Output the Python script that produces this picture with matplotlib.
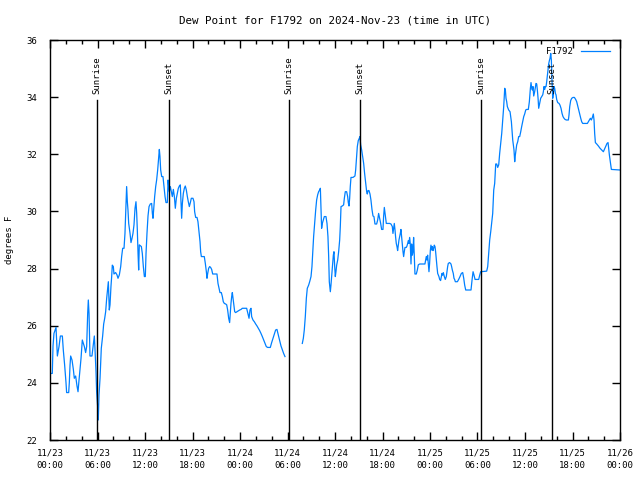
import numpy as np
import matplotlib
matplotlib.use('Agg')
import matplotlib.pyplot as plt
import matplotlib.transforms as mtransforms
from matplotlib.ticker import MultipleLocator

# hours since 2024-11-23 00:00 UTC and dew point (F); None marks a data gap
hours = [
    0.0, 0.29, 0.38, 0.50, 0.76, 0.93, 1.14, 1.31, 1.56, 1.68, 1.85, 2.02, 2.10, 2.36, 2.44,
    2.53, 2.61, 2.78, 2.95, 3.07, 3.24, 3.41, 3.54, 3.66, 3.79, 3.92, 4.08, 4.21, 4.34, 4.50,
    4.63, 4.76, 4.84, 4.93, 5.05, 5.30, 5.47, 5.60, 5.68, 5.81, 5.89, 6.02, 6.10, 6.19, 6.32,
    6.48, 6.65, 6.78, 6.91, 7.03, 7.16, 7.28, 7.37, 7.49, 7.58, 7.70, 7.79, 7.87, 8.00, 8.08,
    8.29, 8.46, 8.59, 8.76, 8.93, 9.05, 9.18, 9.35, 9.47, 9.60, 9.68, 9.77, 9.85, 9.94, 10.11,
    10.23, 10.36, 10.48, 10.61, 10.74, 10.86, 10.95, 11.03, 11.12, 11.20, 11.28, 11.54, 11.66, 11.79, 11.92,
    12.04, 12.13, 12.25, 12.38, 12.51, 12.67, 12.84, 12.93, 13.01, 13.09, 13.22, 13.35, 13.47, 13.60, 13.73,
    13.81, 13.89, 13.98, 14.11, 14.27, 14.40, 14.53, 14.65, 14.82, 14.91, 14.99, 15.07, 15.20, 15.33, 15.45,
    15.58, 15.71, 15.83, 15.96, 16.08, 16.21, 16.34, 16.46, 16.55, 16.63, 16.72, 16.84, 16.97, 17.09, 17.22,
    17.35, 17.47, 17.60, 17.73, 17.85, 18.06, 18.19, 18.27, 18.40, 18.57, 18.69, 18.82, 18.95, 19.03, 19.12,
    19.49, 19.62, 19.75, 19.83, 19.92, 20.04, 20.17, 20.29, 20.42, 20.55, 21.09, 21.22, 21.35, 21.47, 21.64,
    21.77, 21.89, 22.02, 22.19, 22.32, 22.44, 22.57, 22.69, 22.78, 22.86, 22.95, 23.03, 23.12, 23.20, 23.33,
    23.45, 23.62, 23.79, 23.96, 24.13, 24.29, 24.55, 24.84,
    25.14, 25.26, 25.39, 25.47, 25.64, 25.81, 25.98, 26.15, 26.31, 26.48, 26.65, 26.82, 26.99, 27.16, 27.32,
    27.49, 27.83, 28.00, 28.17, 28.34, 28.50, 28.67, 28.84, 29.01, 29.18, 29.35, 29.51, 29.68, 30.8,
    31.87, 32.00, 32.12, 32.25, 32.38, 32.50, 32.67, 32.80, 32.97, 33.09, 33.18, 33.30, 33.43, 33.56, 33.68,
    33.81, 33.93, 34.06, 34.15, 34.23, 34.31, 34.40, 34.52, 34.65, 34.86, 34.99, 35.11, 35.20, 35.28, 35.41,
    35.49, 35.62, 35.70, 35.79, 35.87, 35.96, 36.04, 36.12, 36.21, 36.34, 36.46, 36.59, 36.67, 36.76, 36.92,
    37.09, 37.18, 37.30, 37.47, 37.60, 37.68,
    37.77, 37.85, 37.93, 38.02, 38.27, 38.52, 38.61, 38.73, 38.82, 38.94, 39.07, 39.15, 39.24, 39.37, 39.49,
    39.62, 39.74, 39.87, 40.00, 40.08, 40.17, 40.29, 40.42, 40.54, 40.67, 40.80, 40.92, 41.05, 41.26, 41.39,
    41.51, 41.64, 41.77, 41.89, 42.06, 42.14, 42.23, 42.31, 42.40, 42.48, 42.90, 43.07, 43.24, 43.32, 43.41,
    43.49, 43.58, 43.66, 43.74, 43.83, 43.91, 44.00, 44.08, 44.17, 44.25, 44.33, 44.42, 44.50, 44.59, 44.67,
    44.75, 44.84, 45.01, 45.09, 45.18, 45.26, 45.34, 45.43, 45.51, 45.60, 45.68, 45.77, 45.85, 45.93, 46.02,
    46.10, 46.27, 46.40, 46.52, 46.69, 47.36, 47.45, 47.53, 47.62, 47.70, 47.79, 47.87, 47.95, 48.04, 48.12,
    48.21, 48.29, 48.38, 48.46, 48.54, 48.63, 48.71, 48.80, 48.88, 48.97, 49.05, 49.13, 49.22, 49.34, 49.43,
    49.51, 49.60, 49.68, 49.81, 49.93, 50.06, 50.14, 50.23, 50.31, 50.48, 50.65, 50.73, 50.82, 50.94, 51.03,
    51.11,
    51.20, 51.46, 51.62, 51.79, 51.96, 52.13, 52.26, 52.38, 52.51, 53.18, 53.31, 53.44, 53.56, 53.69, 54.15,
    54.28, 54.40, 55.16, 55.29, 55.41, 55.54, 55.67, 55.79, 55.92, 56.05, 56.17, 56.30, 56.43, 56.55, 56.68,
    56.80, 56.93, 57.06, 57.18, 57.31, 57.44, 57.52, 57.60, 57.69, 57.77, 57.94, 58.11, 58.19, 58.28, 58.36,
    58.45, 58.61, 58.70, 58.78, 58.87, 58.95, 59.08, 59.20, 59.33, 59.46, 59.58, 59.71, 59.84, 59.96, 60.09,
    60.21, 60.42, 60.55, 60.68, 60.76, 60.85, 60.93, 61.01, 61.10, 61.22, 61.31, 61.39, 61.48, 61.56, 61.65,
    61.73, 61.81, 61.90, 61.98, 62.11, 62.24, 62.32, 62.40, 62.49, 62.57, 62.66, 62.74, 62.83, 62.91, 62.99,
    63.08,
    63.16, 63.25, 63.33, 63.41, 63.50, 63.58, 63.67, 63.75, 63.84, 63.92, 64.00, 64.13, 64.30, 64.42, 64.55,
    64.68, 64.80, 64.93, 65.06, 65.22, 65.48, 65.56, 65.65, 65.77, 65.90, 66.07, 66.24, 66.40, 66.53, 66.66,
    66.78, 66.91, 67.04, 67.16, 67.29, 67.88, 68.00, 68.13, 68.26, 68.38, 68.51, 68.63, 68.72, 68.80, 68.89,
    69.06, 69.27, 69.48, 69.69, 69.90, 70.03, 70.19, 70.36, 70.49, 70.57, 70.66, 70.78, 70.91, 72.00,
]

dewpt = [
    24.33, 24.33, 25.29, 25.73, 25.94, 24.94, 25.27, 25.64, 25.64, 25.15, 24.62, 24.01, 23.66, 23.66, 24.01,
    24.62, 24.94, 24.80, 24.47, 24.16, 24.24, 23.89, 23.69, 24.08, 24.45, 24.86, 25.50, 25.38, 25.27, 25.06,
    25.27, 26.43, 26.90, 26.43, 24.94, 24.94, 25.33, 25.64, 25.21, 24.39, 23.69, 23.17, 22.70, 23.57, 24.16,
    25.21, 25.64, 26.06, 26.26, 26.49, 26.96, 27.31, 27.54, 26.55, 26.73, 27.37, 27.72, 28.12, 28.07, 27.81,
    27.86, 27.78, 27.66, 27.78, 28.07, 28.42, 28.71, 28.71, 29.23, 30.28, 30.87, 30.34, 30.05, 29.58, 29.23,
    28.91, 29.06, 29.23, 29.53, 30.11, 30.34, 29.93, 29.35, 28.53, 27.95, 28.83, 28.77, 28.53, 28.07, 27.72,
    27.72, 28.53, 29.23, 29.84, 30.17, 30.26, 30.28, 29.93, 29.76, 30.05, 30.52, 30.87, 31.10, 31.45, 31.92,
    32.17, 31.92, 31.45, 31.22, 31.22, 30.87, 30.52, 30.31, 30.31, 31.10, 30.87, 30.69, 30.87, 30.69, 30.52,
    30.77, 30.52, 30.11, 30.46, 30.63, 30.81, 30.89, 30.93, 30.28, 29.76, 30.28, 30.63, 30.81, 30.89, 30.75,
    30.52, 30.34, 30.17, 30.31, 30.46, 30.46, 30.34, 29.99, 29.79, 29.79, 29.64, 29.29, 28.94, 28.59, 28.42,
    28.42, 28.18, 27.89, 27.66, 27.83, 28.01, 28.07, 28.04, 27.97, 27.81, 27.81, 27.48, 27.31, 27.16, 27.16,
    27.02, 26.84, 26.78, 26.76, 26.73, 26.55, 26.26, 26.11, 26.49, 26.78, 27.02, 27.16, 26.96, 26.78, 26.49,
    26.46, 26.49, 26.52, 26.55, 26.57, 26.61, 26.61, 26.61,
    26.26, 26.55, 26.61, 26.32, 26.20, 26.14, 26.06, 25.99, 25.91, 25.83, 25.73, 25.62, 25.50, 25.38, 25.27,
    25.24, 25.24, 25.41, 25.56, 25.71, 25.85, 25.87, 25.67, 25.48, 25.29, 25.15, 25.03, 24.92, None,
    25.38, 25.56, 25.85, 26.32, 26.96, 27.31, 27.42, 27.54, 27.72, 28.07, 28.53, 29.12, 29.58, 30.05, 30.40,
    30.58, 30.69, 30.75, 30.81, 30.05, 29.41, 29.58, 29.70, 29.82, 29.82, 29.58, 29.12, 28.42, 27.54, 27.19,
    27.42, 27.89, 28.18, 28.47, 28.59, 28.07, 27.72, 27.89, 28.12, 28.30, 28.59, 29.00, 29.47, 30.17, 30.19,
    30.23, 30.46, 30.69, 30.69, 30.52, 30.31,
    30.19, 30.46, 30.87, 31.19, 31.19, 31.24, 31.45, 31.92, 32.27, 32.48, 32.56, 32.62, 32.33, 32.15, 31.92,
    31.68, 31.33, 31.01, 30.69, 30.61, 30.73, 30.73, 30.61, 30.40, 30.07, 29.84, 29.82, 29.56, 29.56, 29.70,
    29.93, 29.76, 29.58, 29.37, 29.37, 29.82, 30.14, 29.96, 29.76, 29.58, 29.58, 29.56, 29.47, 29.23, 29.41,
    29.58, 29.35, 29.09, 28.88, 28.77, 28.63, 28.82, 29.00, 29.12, 29.23, 29.37, 29.12, 28.86, 28.59, 28.42,
    28.59, 28.74, 28.74, 28.79, 28.88, 28.98, 28.88, 29.09, 28.86, 28.16, 28.86, 28.47, 28.59, 29.09, 28.42,
    27.81, 27.81, 27.95, 28.13, 28.16, 28.16, 28.30, 28.42, 28.30, 28.47, 28.18, 27.89, 28.18, 28.63, 28.82,
    28.65, 28.77, 28.63, 28.71, 28.82, 28.77, 28.59, 28.30, 28.07, 27.83, 27.77, 27.72, 27.62, 27.58, 27.72,
    27.83, 27.77, 27.86, 27.72, 27.62, 27.72, 27.89, 28.07, 28.18, 28.21, 28.16, 28.07, 27.95, 27.83, 27.66,
    27.62,
    27.54, 27.54, 27.62, 27.72, 27.83, 27.86, 27.66, 27.42, 27.25, 27.25, 27.60, 27.89, 27.77, 27.62, 27.62,
    27.77, 27.89, 27.91, 28.07, 28.53, 29.00, 29.29, 29.61, 29.93, 30.75, 30.98, 31.66, 31.66, 31.54, 31.63,
    32.03, 32.38, 32.73, 33.20, 33.67, 34.31, 34.25, 33.96, 33.84, 33.67, 33.55, 33.49, 33.32, 33.14, 32.85,
    32.50, 32.15, 31.74, 31.97, 32.15, 32.33, 32.44, 32.62, 32.62, 32.79, 32.97, 33.14, 33.32, 33.41, 33.55,
    33.57, 33.57, 33.84, 34.31, 34.51, 34.31, 34.25, 34.37, 34.04, 34.19, 34.34, 34.48, 34.46, 34.25, 33.96,
    33.61, 33.72, 33.84, 33.96, 34.02, 34.08, 34.19, 34.37, 34.27, 34.37, 34.37, 34.54, 34.77, 34.95, 35.16,
    35.28,
    35.36, 35.53, 35.30, 34.60, 33.96, 34.13, 34.37, 34.31, 34.13, 34.08, 33.92, 33.81, 33.78, 33.72, 33.61,
    33.43, 33.32, 33.26, 33.22, 33.20, 33.20, 33.38, 33.67, 33.88, 33.96, 33.99, 33.99, 33.92, 33.84, 33.69,
    33.55, 33.41, 33.26, 33.14, 33.08, 33.08, 33.14, 33.20, 33.26, 33.20, 33.29, 33.41, 33.20, 32.73, 32.41,
    32.36, 32.29, 32.21, 32.15, 32.09, 32.17, 32.27, 32.38, 32.41, 32.21, 31.97, 31.74, 31.47, 31.45,
]

sunrise_hours = [5.97, 30.23, 54.48]
sunset_hours = [15.07, 39.20, 63.45]

xtick_hours = list(range(0, 73, 6))
xtick_labels = ['11/23\n00:00', '11/23\n06:00', '11/23\n12:00', '11/23\n18:00',
                '11/24\n00:00', '11/24\n06:00', '11/24\n12:00', '11/24\n18:00',
                '11/25\n00:00', '11/25\n06:00', '11/25\n12:00', '11/25\n18:00',
                '11/26\n00:00']
ytick_values = list(range(22, 37, 2))

plt.rcParams['font.family'] = ['DejaVu Sans Mono']
plt.rcParams['font.size'] = 6.5

x = np.array(hours, dtype=float)
y = np.array([np.nan if v is None else v for v in dewpt], dtype=float)

fig = plt.figure(figsize=(6.4, 4.8), dpi=100)
ax = fig.add_axes([50 / 640, 40 / 480, 570 / 640, 400 / 480])

ax.plot(x, y, color='#0080ff', lw=0.9, label='F1792')

trans = mtransforms.blended_transform_factory(ax.transData, ax.transAxes)
for h in sunrise_hours:
    ax.axvline(h, ymin=0, ymax=0.85, color='black', lw=1)
    ax.text(h, 0.866, 'Sunrise', transform=trans, rotation=90, ha='center', va='bottom')
for h in sunset_hours:
    ax.axvline(h, ymin=0, ymax=0.85, color='black', lw=1)
    ax.text(h, 0.866, 'Sunset', transform=trans, rotation=90, ha='center', va='bottom')

ax.set_xlim(0, 72)
ax.set_ylim(22, 36)
ax.set_xticks(xtick_hours)
ax.set_xticklabels(xtick_labels, linespacing=1.5)
ax.xaxis.set_minor_locator(MultipleLocator(2))
ax.set_yticks(ytick_values)
ax.tick_params(which='both', direction='in', top=True, right=True, width=1)
ax.tick_params(which='major', length=6)
ax.tick_params(which='minor', length=3)
ax.tick_params(axis='x', pad=6)
ax.tick_params(axis='y', pad=9)
for s in ax.spines.values():
    s.set_linewidth(1)

ax.set_title('Dew Point for F1792 on 2024-Nov-23 (time in UTC)', pad=12)
ax.set_ylabel('degrees F')
ax.yaxis.set_label_coords(-0.064, 0.5)

ax.legend(loc='upper right', bbox_to_anchor=(0.993, 0.998), frameon=False,
          markerfirst=False, handlelength=3.2, borderaxespad=0.3, handletextpad=0.9)

fig.savefig('out.png', dpi=100)
